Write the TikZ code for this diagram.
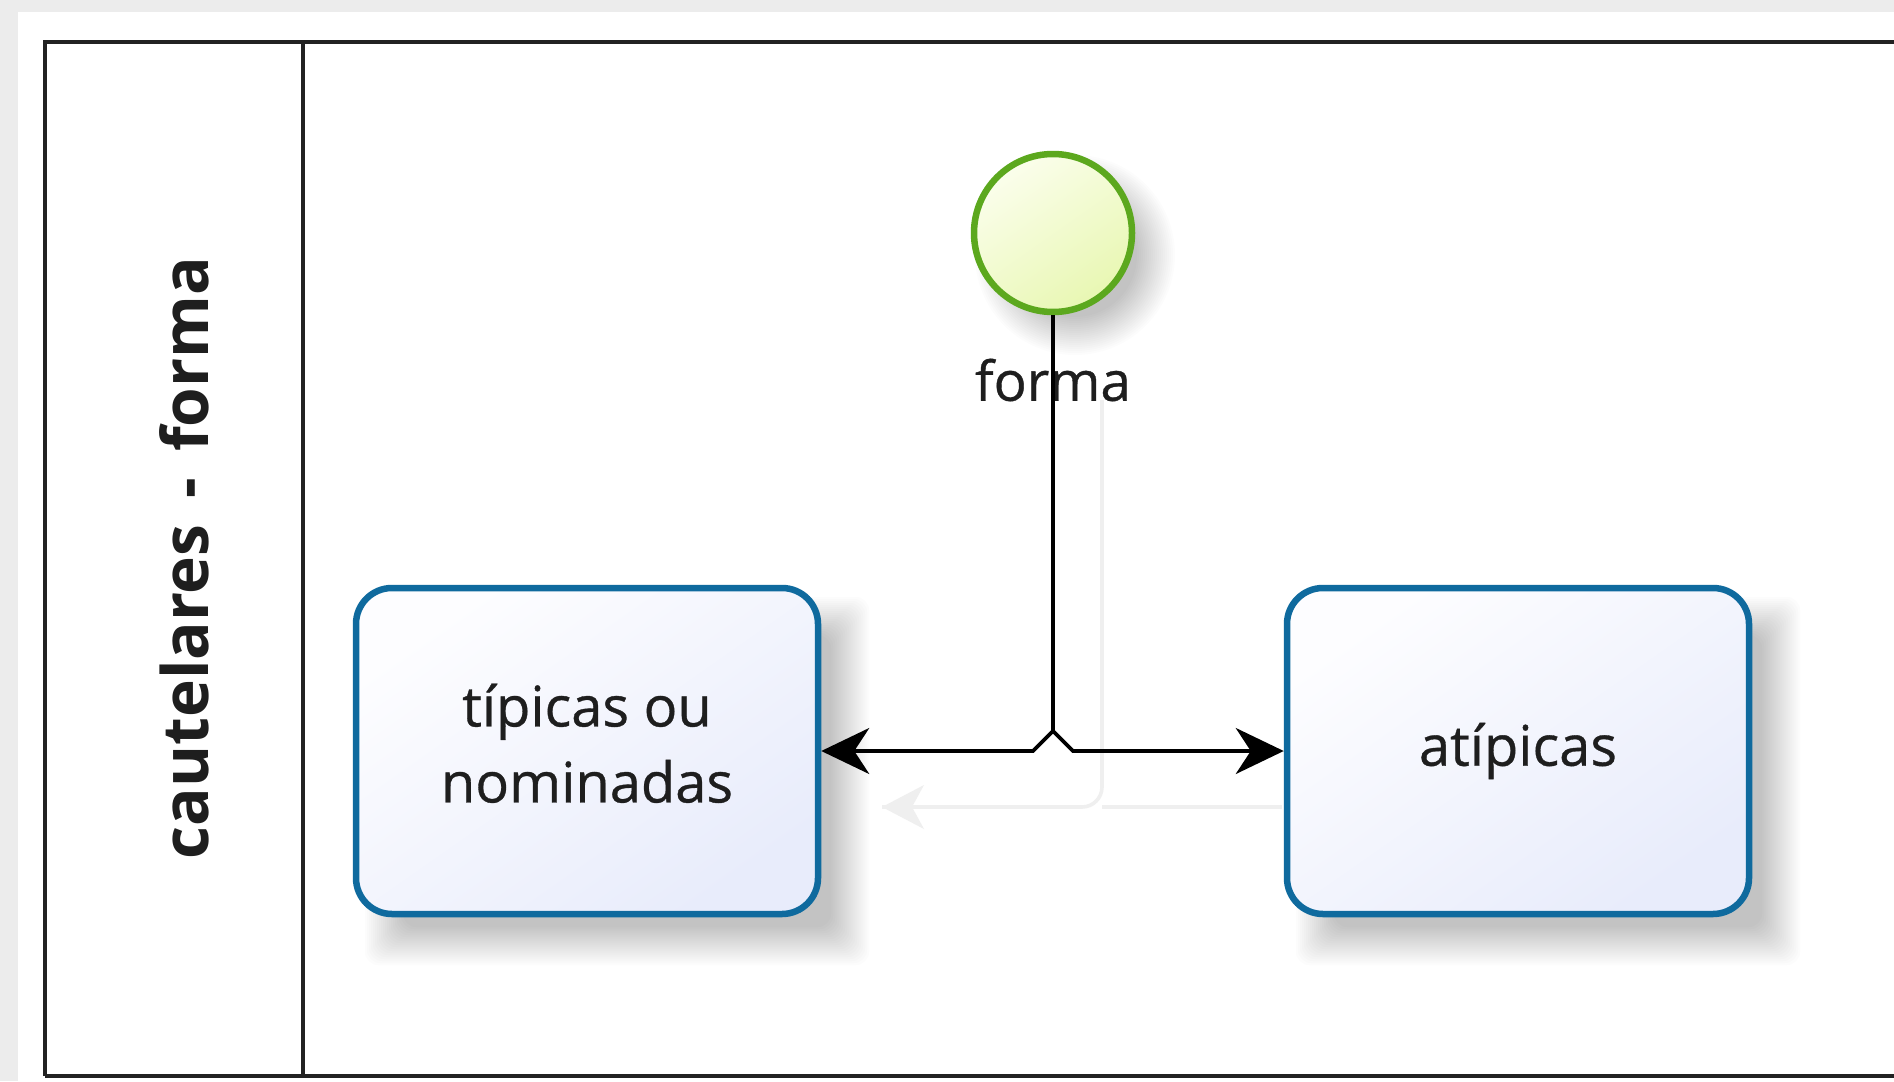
\documentclass[tikz,border=0pt]{standalone}
\usepackage{fontspec}
\setmainfont{Open Sans}
\newfontfamily\lblfont[FakeBold=0.6]{Open Sans}
\usetikzlibrary{arrows.meta,calc}
\pgfdeclarelayer{bglayer}
\pgfdeclarelayer{shadowlayer}
\pgfsetlayers{bglayer,shadowlayer,main}
\definecolor{bgGrey}{HTML}{ECECEC}
\definecolor{frameCol}{HTML}{222222}
\definecolor{taskBorder}{HTML}{0F6A9E}
\definecolor{taskTop}{HTML}{FDFDFF}
\definecolor{taskBot}{HTML}{E8ECFB}
\definecolor{startBorder}{HTML}{5CA81E}
\definecolor{startTop}{HTML}{FBFEEC}
\definecolor{startBot}{HTML}{E8F7B2}
\definecolor{txtCol}{HTML}{1E1E1E}
\definecolor{ghost}{HTML}{EFEFEF}
\tikzset{
  frameline/.style={draw=frameCol, line width=4pt},
  taskbox/.style={draw=taskBorder, line width=6.5pt, rounded corners=36pt,
    minimum width=462pt, minimum height=326pt, inner sep=0pt,
    top color=taskTop, bottom color=taskBot, shading angle=35,
    align=center, text=txtCol, font=\lblfont\fontsize{56}{76}\selectfont},
  startev/.style={circle, draw=startBorder, line width=6.5pt, minimum size=158pt, inner sep=0pt,
    top color=startTop, bottom color=startBot, shading angle=35},
  shadowlay/.style={fill=black, fill opacity=0.011},
  flow/.style={draw=black, line width=3.6pt, line join=miter},
  flowtip/.style={-{Stealth[length=48pt, width=46pt, inset=15pt]}},
  ghostline/.style={draw=ghost, line width=3.6pt, rounded corners=20pt}
}
\begin{document}
\begin{tikzpicture}[x=1pt, y=-1pt]
  \useasboundingbox (0,0) rectangle (1894,1081);
  \clip (0,0) rectangle (1894,1081);
  \begin{pgfonlayer}{bglayer}
    \fill[bgGrey] (0,0) rectangle (1894,1081);
    \fill[white] (18,12) rectangle (1900,1090);
  \end{pgfonlayer}
  % pool frame
  \draw[frameline] (45,1076) -- (45,42) -- (1910,42);
  \draw[frameline] (45,1076) -- (1910,1076);
  \draw[frameline] (303,42) -- (303,1076);
  \node[rotate=90, text=txtCol, font=\bfseries\fontsize{64}{74}\selectfont] (lane) at (184,558)
    {cautelares\hspace{26pt}-\hspace{26pt}forma};
  % ghost shadow of flows
  \coordinate (g1) at (1102,400);
  \coordinate (g2) at (1102,807);
  \coordinate (g3) at (882,807);
  \coordinate (g4) at (1282,807);
  \draw[ghostline] (g1) -- (g2) -- (g3);
  \draw[ghostline] (g2) -- (g4);
  \fill[ghost] (g3) -- ++(42,-22) -- ++(-12,22) -- ++(12,22) -- cycle;
  % nodes
  \node[taskbox] (tip) at (587,751) {típicas ou\\nominadas\rule[-16pt]{0pt}{0pt}};
  \node[taskbox] (atip) at (1518,751) {atípicas};
  \node[startev] (start) at (1053,233) {};
  \node[text=txtCol, font=\lblfont\fontsize{55}{64}\selectfont] (lbl) at (1053,380) {forma};
  % soft shadows
  \begin{pgfonlayer}{shadowlayer}
    \foreach \k in {1,...,20} {
      \pgfmathsetmacro{\d}{20-2*\k}
      \fill[shadowlay, rounded corners=14pt] ($(tip.north west)+(30-\d,30-\d)$) rectangle ($(tip.south east)+(30+\d,30+\d)$);
      \fill[shadowlay, rounded corners=14pt] ($(atip.north west)+(30-\d,30-\d)$) rectangle ($(atip.south east)+(30+\d,30+\d)$);
      \fill[shadowlay] ($(start.center)+(22,22)$) circle[radius=82+\d];
    }
  \end{pgfonlayer}
  % flows
  \coordinate (hop) at (1053,731);
  \coordinate (hl) at (1033,751);
  \coordinate (hr) at (1073,751);
  \draw[flow] (start.south) -- (hop);
  \draw[flow, flowtip] (hop) -- (hl) -- (tip.east);
  \draw[flow, flowtip] (hop) -- (hr) -- (atip.west);
\end{tikzpicture}
\end{document}
